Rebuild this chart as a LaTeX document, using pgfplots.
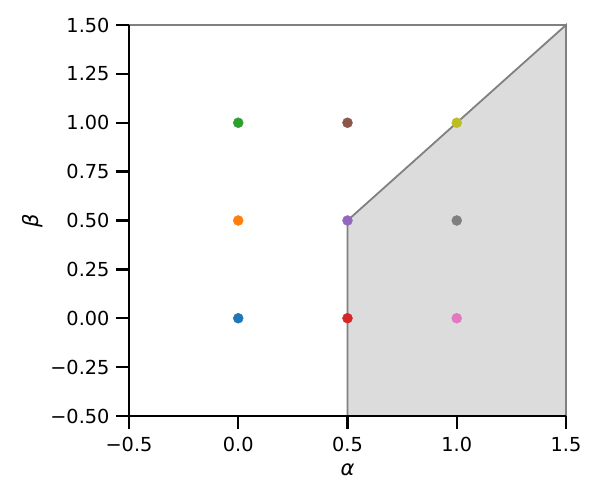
\documentclass[border=0pt]{standalone}
\usepackage{pgfplots}
\pgfplotsset{compat=1.18}
\usepackage{fontspec}
\setmainfont{DejaVu Sans}

\definecolor{c0}{HTML}{1F77B4}
\definecolor{c1}{HTML}{FF7F0E}
\definecolor{c2}{HTML}{2CA02C}
\definecolor{c3}{HTML}{D62728}
\definecolor{c4}{HTML}{9467BD}
\definecolor{c5}{HTML}{8C564B}
\definecolor{c6}{HTML}{E377C2}
\definecolor{c7}{HTML}{7F7F7F}
\definecolor{c8}{HTML}{BCBD22}
\definecolor{shade}{HTML}{DCDCDC}
\definecolor{edge}{HTML}{808080}

\begin{document}
\begin{tikzpicture}
\begin{axis}[
    scale only axis,
    width=437pt, height=391pt,
    xmin=-0.5, xmax=1.5, ymin=-0.5, ymax=1.5,
    axis x line*=bottom, axis y line*=left,
    axis line style={black, line width=1.3pt, -},
    axis on top,
    xtick={-0.5,0,0.5,1,1.5},
    xticklabels={−0.5,0.0,0.5,1.0,1.5},
    ytick={-0.5,-0.25,0,0.25,0.5,0.75,1,1.25,1.5},
    yticklabels={−0.50,−0.25,0.00,0.25,0.50,0.75,1.00,1.25,1.50},
    tick align=outside,
    major tick length=13pt,
    tick style={black, line width=2.4pt},
    ticklabel style={font=\fontsize{19.3}{23}\selectfont},
    xticklabel style={yshift=-5pt},
    yticklabel style={xshift=-3pt},
    xlabel={\itshape α}, ylabel={\itshape β},
    label style={font=\fontsize{21}{25}\selectfont},
    xlabel style={yshift=-5pt},
    ylabel style={yshift=1pt},
    clip=false,
]
\addplot[fill=shade, draw=edge, line width=1.8pt] coordinates {(0.5,-0.5) (0.5,0.5) (1.5,1.5) (1.5,-0.5)} -- cycle;
\addplot[draw=edge, line width=1.4pt] coordinates {(-0.5,1.5) (1.5,1.5) (1.5,-0.5)};
\addplot[only marks, mark=*, mark size=5pt, c0, mark options={draw=c0,fill=c0}] coordinates {(0,0)};
\addplot[only marks, mark=*, mark size=5pt, c1, mark options={draw=c1,fill=c1}] coordinates {(0,0.5)};
\addplot[only marks, mark=*, mark size=5pt, c2, mark options={draw=c2,fill=c2}] coordinates {(0,1)};
\addplot[only marks, mark=*, mark size=5pt, c3, mark options={draw=c3,fill=c3}] coordinates {(0.5,0)};
\addplot[only marks, mark=*, mark size=5pt, c4, mark options={draw=c4,fill=c4}] coordinates {(0.5,0.5)};
\addplot[only marks, mark=*, mark size=5pt, c5, mark options={draw=c5,fill=c5}] coordinates {(0.5,1)};
\addplot[only marks, mark=*, mark size=5pt, c6, mark options={draw=c6,fill=c6}] coordinates {(1,0)};
\addplot[only marks, mark=*, mark size=5pt, c7, mark options={draw=c7,fill=c7}] coordinates {(1,0.5)};
\addplot[only marks, mark=*, mark size=5pt, c8, mark options={draw=c8,fill=c8}] coordinates {(1,1)};
\end{axis}
\path (current axis.south west) ++(-129pt,-83pt) coordinate (bbA);
\path (current axis.north east) ++(32pt,25pt) coordinate (bbB);
\useasboundingbox (bbA) rectangle (bbB);
\end{tikzpicture}
\end{document}
